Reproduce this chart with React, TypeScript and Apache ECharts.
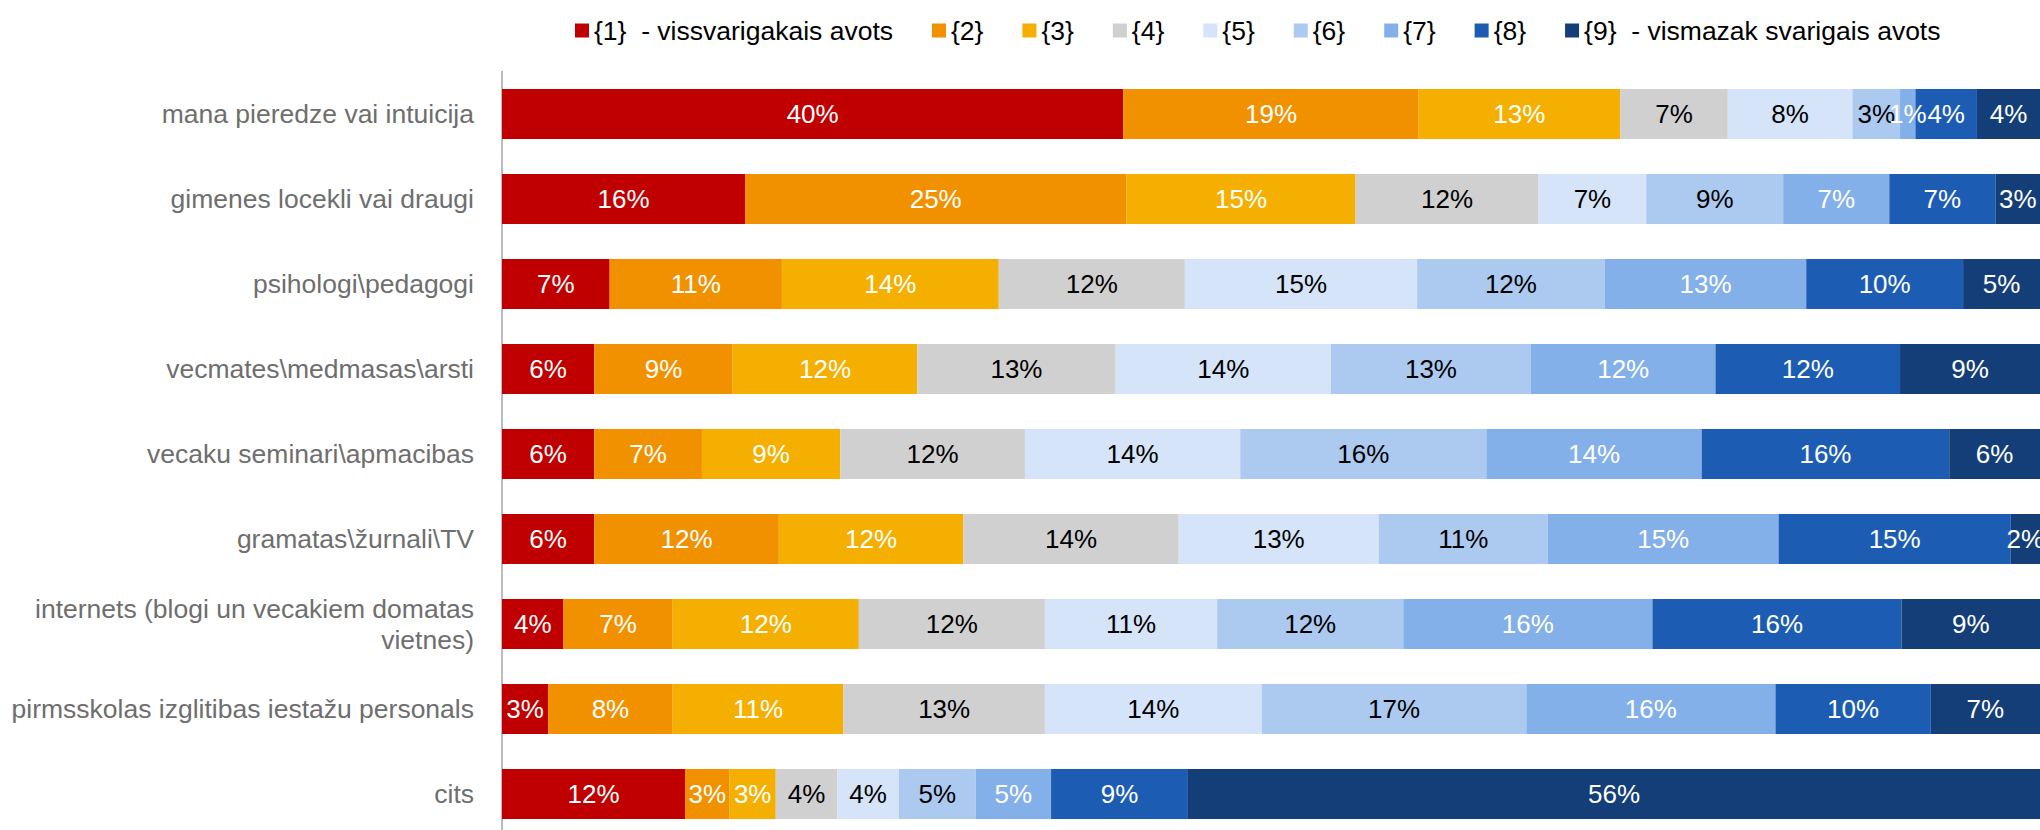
import React, { useEffect, useRef } from "react";
import * as echarts from "echarts";

const categories = [
  "mana pieredze vai intuicija",
  "gimenes locekli vai draugi",
  "psihologi\\pedagogi",
  "vecmates\\medmasas\\arsti",
  "vecaku seminari\\apmacibas",
  "gramatas\\žurnali\\TV",
  "internets (blogi un vecakiem domatas\nvietnes)",
  "pirmsskolas izglitibas iestažu personals",
  "cits",
];

const seriesNames = [
  "{1}  - vissvarigakais avots",
  "{2}",
  "{3}",
  "{4}",
  "{5}",
  "{6}",
  "{7}",
  "{8}",
  "{9}  - vismazak svarigais avots",
];

const s1 = [40.4, 15.8, 7.0, 6.0, 6.0, 6.0, 4.0, 3.0, 11.9];
const s2 = [19.2, 24.8, 11.2, 9.0, 7.0, 12.0, 7.1, 8.1, 2.9];
const s3 = [13.1, 14.9, 14.1, 12.0, 9.0, 12.0, 12.1, 11.1, 3.0];
const s4 = [7.0, 11.9, 12.1, 12.9, 12.0, 14.0, 12.1, 13.1, 4.0];
const s5 = [8.1, 7.0, 15.1, 14.0, 14.0, 13.0, 11.2, 14.1, 4.0];
const s6 = [3.1, 8.9, 12.2, 13.0, 16.0, 11.0, 12.1, 17.2, 5.0];
const s7 = [1.0, 6.9, 13.1, 12.0, 14.0, 15.0, 16.2, 16.2, 4.9];
const s8 = [4.0, 6.9, 10.2, 12.0, 16.1, 15.1, 16.2, 10.1, 8.9];
const s9 = [4.1, 3.0, 5.0, 9.1, 6.0, 1.9, 9.1, 7.1, 55.5];

const seriesValues = [s1, s2, s3, s4, s5, s6, s7, s8, s9];

const colors = [
  "#C00000",
  "#F29100",
  "#F5AF00",
  "#D0D0D0",
  "#D5E4F8",
  "#ACCAF0",
  "#84B0EA",
  "#1C5DB3",
  "#143E78",
];

const labelColors = [
  "#FFFFFF",
  "#FFFFFF",
  "#FFFFFF",
  "#000000",
  "#000000",
  "#000000",
  "#FFFFFF",
  "#FFFFFF",
  "#FFFFFF",
];

const FONT = "'Liberation Sans', Arial, sans-serif";

export default function App() {
  const ref = useRef<HTMLDivElement>(null);

  useEffect(() => {
    if (!ref.current) return;
    const chart = echarts.init(ref.current, undefined, { renderer: "svg" });
    chart.setOption({
      animation: false,
      color: colors,
      legend: {
        top: 12,
        left: 570,
        itemWidth: 14,
        itemHeight: 14,
        itemGap: 39,
        icon: "rect",
        textStyle: { fontSize: 26.5, color: "#000", fontFamily: FONT },
        data: seriesNames,
      },
      grid: { left: 502, right: 0, top: 71.5, height: 765 },
      xAxis: { type: "value", min: 0, max: 100, show: false },
      yAxis: {
        type: "category",
        inverse: true,
        data: categories,
        axisLine: { show: true, lineStyle: { color: "#A6A6A6", width: 1.5 } },
        axisTick: { show: false },
        axisLabel: {
          margin: 28,
          fontSize: 26.5,
          lineHeight: 31,
          color: "#6E6E6E",
          fontFamily: FONT,
          align: "right",
        },
      },
      series: seriesValues.map((vals, i) => ({
        name: seriesNames[i],
        type: "bar",
        stack: "total",
        barWidth: 50,
        data: vals,
        itemStyle: { color: colors[i] },
        label: {
          show: true,
          position: "inside",
          fontSize: 26,
          fontFamily: FONT,
          color: labelColors[i],
          formatter: (p: any) => Math.round(p.value) + "%",
        },
      })),
    });
    return () => chart.dispose();
  }, []);

  return (
    <div
      style={{
        position: "fixed",
        left: 0,
        top: 0,
        width: 2040,
        height: 830,
        overflow: "hidden",
        background: "#fff",
      }}
    >
      <div ref={ref} style={{ width: 2040, height: 840 }} />
    </div>
  );
}
